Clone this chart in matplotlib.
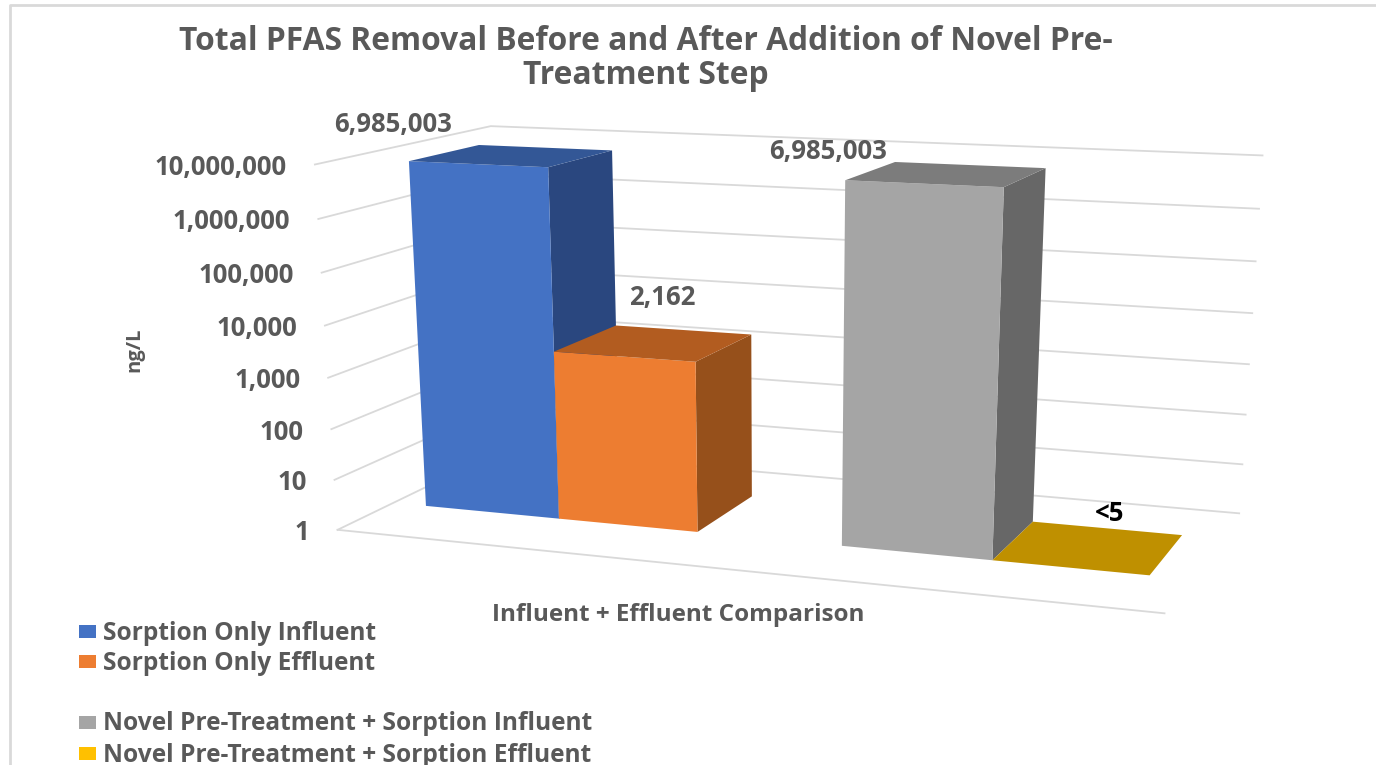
import matplotlib
matplotlib.use("Agg")
import matplotlib.pyplot as plt
import numpy as np

TITLE = "Total PFAS Removal Before and After Addition of Novel Pre-\nTreatment Step"
SERIES = [
    "Sorption Only Influent",
    "Sorption Only Effluent",
    "",
    "Novel Pre-Treatment + Sorption Influent",
    "Novel Pre-Treatment + Sorption Effluent",
]
VALUES = [6985003, 2162, None, 6985003, 1]
VALUE_LABELS = ["6,985,003", "2,162", "", "6,985,003", "<5"]
TICKS = [1, 10, 100, 1000, 10000, 100000, 1000000, 10000000]
FRONT = ["#4472C4", "#ED7D31", "none", "#A5A5A5", "#FFC000"]
TOP = ["#335796", "#B25C20", "none", "#7C7C7C", "#BF9000"]
SIDE = ["#2A477F", "#96501B", "none", "#676767", "#8F6C00"]
LABEL_COLORS = ["#595959", "#595959", "none", "#595959", "black"]
TEXT = "#595959"
GRID = "#D9D9D9"
FONT = "Open Sans"

# layout of the 3D box, in bar widths along x and box depth along y
MARGIN = 0.25
Y0, Y1 = 0.31, 0.72
XMAX = 5 + 2 * MARGIN
ZB, ZO = np.log10(VALUES[0]), np.log10(VALUES[1])
ZMAX = np.log10(TICKS[-1])


def anchors():
    # picture positions of known chart corners, used only to fit the camera
    a, b = MARGIN, MARGIN + 3
    return [
        (0, 0, 0, 339, 530), (XMAX, 0, 0, 1164, 613), (XMAX, 1, 0, 1239.5, 511.7),
        (0, 0, ZMAX, 315, 164), (0, 1, ZMAX, 493, 125), (XMAX, 1, ZMAX, 1262.5, 155),
        (a, Y0, 0, 425, 505.7), (a + 1, Y0, 0, 559, 518.7), (a + 2, Y0, 0, 697.7, 531.7),
        (a, Y0, ZB, 408, 160.7), (a + 1, Y0, ZB, 548, 167),
        (a, Y1, ZB, 478.6, 145), (a + 1, Y1, ZB, 611.6, 150.7),
        (a + 1, Y0, ZO, 553.7, 351.7), (a + 2, Y0, ZO, 695.7, 361.7),
        (a + 1, Y1, ZO, 616, 326), (a + 2, Y1, ZO, 750, 335.7), (a + 2, Y1, 0, 750, 497),
        (b, Y0, 0, 842, 546), (b + 1, Y0, 0, 993.8, 560), (b + 2, Y0, 0, 1150, 575),
        (b + 2, Y1, 0, 1181.7, 535.7), (b + 1, Y1, 0, 1033.5, 522),
        (b, Y0, ZB, 845.5, 180.7), (b + 1, Y0, ZB, 1003.7, 187),
        (b, Y1, ZB, 895, 162.7), (b + 1, Y1, ZB, 1045.5, 169),
    ]


def fit_camera(points):
    rows = []
    for x, y, z, u, v in points:
        u, v = u / 1000, v / 1000
        rows.append([x, y, z, 1, 0, 0, 0, 0, -u * x, -u * y, -u * z, -u])
        rows.append([0, 0, 0, 0, x, y, z, 1, -v * x, -v * y, -v * z, -v])
    _, _, vt = np.linalg.svd(np.array(rows))
    return vt[-1].reshape(3, 4)


CAM = fit_camera(anchors())


def project(x, y, z):
    h = CAM @ np.array([x, y, z, 1.0])
    return 1000 * h[0] / h[2], 1000 * h[1] / h[2]


def main():
    fig = plt.figure(figsize=(13.76, 7.65), dpi=100)
    ax = fig.add_axes([0, 0, 1, 1])
    ax.set_xlim(0, 1376)
    ax.set_ylim(765, 0)
    ax.axis("off")
    P = project

    # chart area border, only left and top show in the crop
    ax.plot([10, 10, 1376], [765, 5, 5], color=GRID, lw=2, zorder=1)

    for tick in TICKS:
        z = np.log10(tick)
        pts = [P(0, 0, z), P(0, 1, z), P(XMAX, 1, z)]
        ax.plot(*zip(*pts), color=GRID, lw=1.3, zorder=1)
        u, v = pts[0]
        ax.text(u - 28, v + 3, f"{tick:,}", ha="right", va="center", fontsize=18.5, fontweight="bold",
                family=FONT, color=TEXT)
    ax.plot(*zip(P(0, 0, 0), P(XMAX, 0, 0)), color=GRID, lw=1.3, zorder=1)

    offsets = [(-152, -23), (-21, -32), None, (-141, -14), (3, -15)]
    for i, value in enumerate(VALUES):
        if value is None:
            continue
        x0 = MARGIN + i
        x1 = x0 + 1
        z = np.log10(value)
        side = [P(x1, Y0, 0), P(x1, Y1, 0), P(x1, Y1, z), P(x1, Y0, z)]
        top = [P(x0, Y0, z), P(x1, Y0, z), P(x1, Y1, z), P(x0, Y1, z)]
        front = [P(x0, Y0, 0), P(x1, Y0, 0), P(x1, Y0, z), P(x0, Y0, z)]
        ax.fill(*zip(*side), color=SIDE[i], lw=0, zorder=2 + i)
        ax.fill(*zip(*front), color=FRONT[i], lw=0, zorder=2 + i)
        ax.fill(*zip(*top), color=TOP[i], lw=0, zorder=2 + i)
        u, v = P(x0 + 0.5, Y1, z)
        ax.text(u + offsets[i][0], v + offsets[i][1], VALUE_LABELS[i], ha="center", va="center", fontsize=18.5,
                fontweight="bold", family=FONT, color=LABEL_COLORS[i], zorder=10)

    ax.text(646, 58.5, TITLE, ha="center", va="center", fontsize=22.9, fontweight="bold", family=FONT,
            color=TEXT, linespacing=1.06)
    ax.text(134, 350, "ng/L", rotation=90, ha="center", va="center", fontsize=14.5, fontweight="bold",
            family=FONT, color=TEXT)
    ax.text(678, 615, "Influent + Effluent Comparison", ha="center", va="center", fontsize=17.5,
            fontweight="bold", family=FONT, color=TEXT)

    for name, color, v in zip(SERIES, FRONT, [631, 661, 692, 722, 753]):
        if not name:
            continue
        ax.add_patch(plt.Rectangle((79, v - 6.5), 17, 13, color=color, lw=0))
        ax.text(103, v + 2, name, ha="left", va="center", fontsize=17.65, fontweight="bold", family=FONT,
                color=TEXT)

    fig.savefig("out.png", dpi=100)
    plt.close(fig)


if __name__ == "__main__":
    main()
